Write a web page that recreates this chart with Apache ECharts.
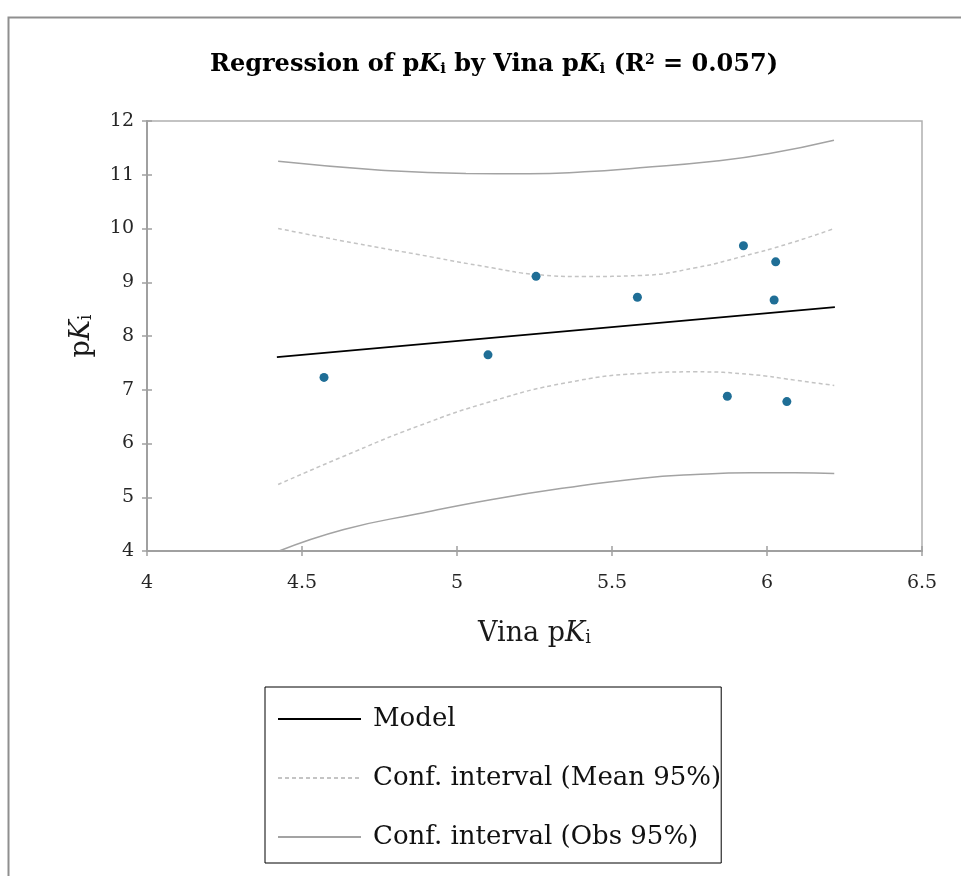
<!DOCTYPE html>
<html>
<head>
<meta charset="utf-8">
<script src="https://cdn.jsdelivr.net/npm/echarts@6/dist/echarts.min.js"></script>
<style>
html,body{margin:0;padding:0;background:#fff;}
#chart{width:961px;height:876px;}
</style>
</head>
<body>
<div id="chart"></div>
<script>
// ---- Data ----
var xTicks = [4, 4.5, 5, 5.5, 6, 6.5];
var yTicks = [4, 5, 6, 7, 8, 9, 10, 11, 12];

var obsX = [4.571, 5.100, 5.255, 5.582, 5.924, 6.028, 6.023, 5.872, 6.064];
var obsY = [7.23, 7.65, 9.11, 8.72, 9.68, 9.38, 8.67, 6.88, 6.78];

var modelX = [4.419, 6.219];
var modelY = [7.606, 8.536];

var meanUpX = [4.423, 4.635, 4.874, 5.113, 5.256, 5.411, 5.590, 5.769, 5.924, 6.068, 6.217];
var meanUpY = [10.00, 9.764, 9.516, 9.269, 9.144, 9.107, 9.126, 9.269, 9.485, 9.715, 10.00];

var meanLoX = [4.423, 4.635, 4.874, 5.113, 5.352, 5.590, 5.769, 5.948, 6.091, 6.217];
var meanLoY = [5.237, 5.764, 6.322, 6.787, 7.129, 7.302, 7.333, 7.284, 7.178, 7.079];

var obsUpX = [4.423, 4.755, 5.029, 5.232, 5.411, 5.590, 5.829, 6.008, 6.216];
var obsUpY = [11.25, 11.085, 11.023, 11.018, 11.055, 11.13, 11.25, 11.395, 11.643];

var obsLoX = [4.426, 4.635, 4.874, 5.113, 5.352, 5.590, 5.769, 5.948, 6.091, 6.217];
var obsLoY = [4.00, 4.40, 4.692, 4.958, 5.176, 5.349, 5.423, 5.455, 5.455, 5.442];

function pairs(xs, ys) { return xs.map(function (x, i) { return [x, ys[i]]; }); }

var FONT = 'DejaVu Serif';
var AXIS_COLOR = '#a0a0a0';

var chart = echarts.init(document.getElementById('chart'), null, {renderer: 'canvas'});

var subRich = {
  k: {fontFamily: FONT, fontStyle: 'italic', fontSize: 27, color: '#1a1a1a', lineHeight: 34, verticalAlign: 'bottom'},
  n: {fontFamily: FONT, fontSize: 27, color: '#1a1a1a', lineHeight: 34, verticalAlign: 'bottom'},
  s: {fontFamily: FONT, fontSize: 18, color: '#1a1a1a', lineHeight: 14, verticalAlign: 'bottom'}
};

var option = {
  backgroundColor: '#ffffff',
  animation: false,
  graphic: [{
    type: 'rect', left: 6, top: 15, z: -10,
    shape: {width: 1100, height: 1000},
    style: {fill: 'none', stroke: '#8f8f8f', lineWidth: 2}
  }],
  title: {
    left: 489, top: 42, textAlign: 'center',
    text: '{b|Regression of p}{bk|K}{bs|i}{b| by Vina p}{bk|K}{bs|i}{b| (R}{sup|2}{b| = 0.057)}',
    textStyle: {
      rich: {
        b: {fontFamily: FONT, fontWeight: 'bold', fontSize: 24, color: '#000', lineHeight: 30, verticalAlign: 'bottom'},
        bk: {fontFamily: FONT, fontWeight: 'bold', fontStyle: 'italic', fontSize: 24, color: '#000', lineHeight: 30, verticalAlign: 'bottom'},
        bs: {fontFamily: FONT, fontWeight: 'bold', fontSize: 15, color: '#000', lineHeight: 12, verticalAlign: 'bottom'},
        sup: {fontFamily: FONT, fontWeight: 'bold', fontSize: 14, color: '#000', lineHeight: 14, verticalAlign: 'top', padding: [6, 0, 0, 0]}
      }
    }
  },
  grid: {
    left: 147, top: 121, right: 39, bottom: 325,
    show: true, borderColor: '#b0b0b0', borderWidth: 1.5, backgroundColor: 'transparent'
  },
  legend: {
    orient: 'vertical', left: 265, top: 687,
    data: ['Model', 'Conf. interval (Mean 95%)', 'Conf. interval (Obs 95%)'],
    itemWidth: 83, itemHeight: 14, itemGap: 29,
    padding: [17, 0, 11, 12],
    borderColor: '#000', borderWidth: 1,
    selectedMode: false,
    itemStyle: {opacity: 0},
    textStyle: {fontFamily: FONT, fontSize: 26, color: '#111', lineHeight: 30, padding: [0, 0, 0, 7]}
  },
  xAxis: [{
    type: 'value', min: 4, max: 6.5, interval: 0.5,
    name: '{n|Vina p}{k|K}{s|i}', nameLocation: 'middle', nameGap: 62,
    nameTextStyle: {rich: subRich},
    axisLine: {show: true, lineStyle: {color: AXIS_COLOR, width: 2}},
    axisTick: {show: true, length: 5, lineStyle: {color: AXIS_COLOR, width: 1.5}},
    axisLabel: {fontFamily: FONT, fontSize: 19, color: '#262626', margin: 23},
    splitLine: {show: false}
  }, {
    type: 'value', min: 4, max: 6.5, interval: 0.5, position: 'bottom',
    axisLine: {show: false},
    axisTick: {show: true, inside: true, length: 5, lineStyle: {color: AXIS_COLOR, width: 1.5}},
    axisLabel: {show: false}, splitLine: {show: false}
  }],
  yAxis: [{
    type: 'value', min: 4, max: 12, interval: 1,
    name: '{n|p}{k|K}{s|i}', nameLocation: 'middle', nameGap: 52, nameRotate: 90,
    nameTextStyle: {rich: subRich},
    axisLine: {show: true, lineStyle: {color: AXIS_COLOR, width: 2}},
    axisTick: {show: true, length: 5, lineStyle: {color: AXIS_COLOR, width: 1.5}},
    axisLabel: {fontFamily: FONT, fontSize: 19, color: '#262626', margin: 13},
    splitLine: {show: false}
  }, {
    type: 'value', min: 4, max: 12, interval: 1, position: 'left',
    axisLine: {show: false},
    axisTick: {show: true, inside: true, length: 5, lineStyle: {color: AXIS_COLOR, width: 1.5}},
    axisLabel: {show: false}, splitLine: {show: false}
  }],
  series: [
    {
      name: 'Conf. interval (Obs 95%)', type: 'line', data: pairs(obsUpX, obsUpY),
      smooth: true, symbol: 'none', color: '#a3a3a3',
      lineStyle: {color: '#a3a3a3', width: 1.5}, clip: true
    },
    {
      name: 'Conf. interval (Obs 95%)', type: 'line', data: pairs(obsLoX, obsLoY),
      smooth: true, symbol: 'none', color: '#a3a3a3',
      lineStyle: {color: '#a3a3a3', width: 1.5}, clip: true
    },
    {
      name: 'Conf. interval (Mean 95%)', type: 'line', data: pairs(meanUpX, meanUpY),
      smooth: true, symbol: 'none', color: '#c4c4c4',
      lineStyle: {color: '#c4c4c4', width: 1.5, type: [4, 3]}, clip: true
    },
    {
      name: 'Conf. interval (Mean 95%)', type: 'line', data: pairs(meanLoX, meanLoY),
      smooth: true, symbol: 'none', color: '#c4c4c4',
      lineStyle: {color: '#c4c4c4', width: 1.5, type: [4, 3]}, clip: true
    },
    {
      name: 'Model', type: 'line', data: pairs(modelX, modelY),
      symbol: 'none', color: '#000',
      lineStyle: {color: '#000', width: 1.7}
    },
    {
      name: 'Observations', type: 'scatter', data: pairs(obsX, obsY),
      symbol: 'circle', symbolSize: 9, z: 5,
      itemStyle: {color: '#1f6e96', opacity: 1}
    }
  ]
};
chart.setOption(option);
</script>
</body>
</html>
